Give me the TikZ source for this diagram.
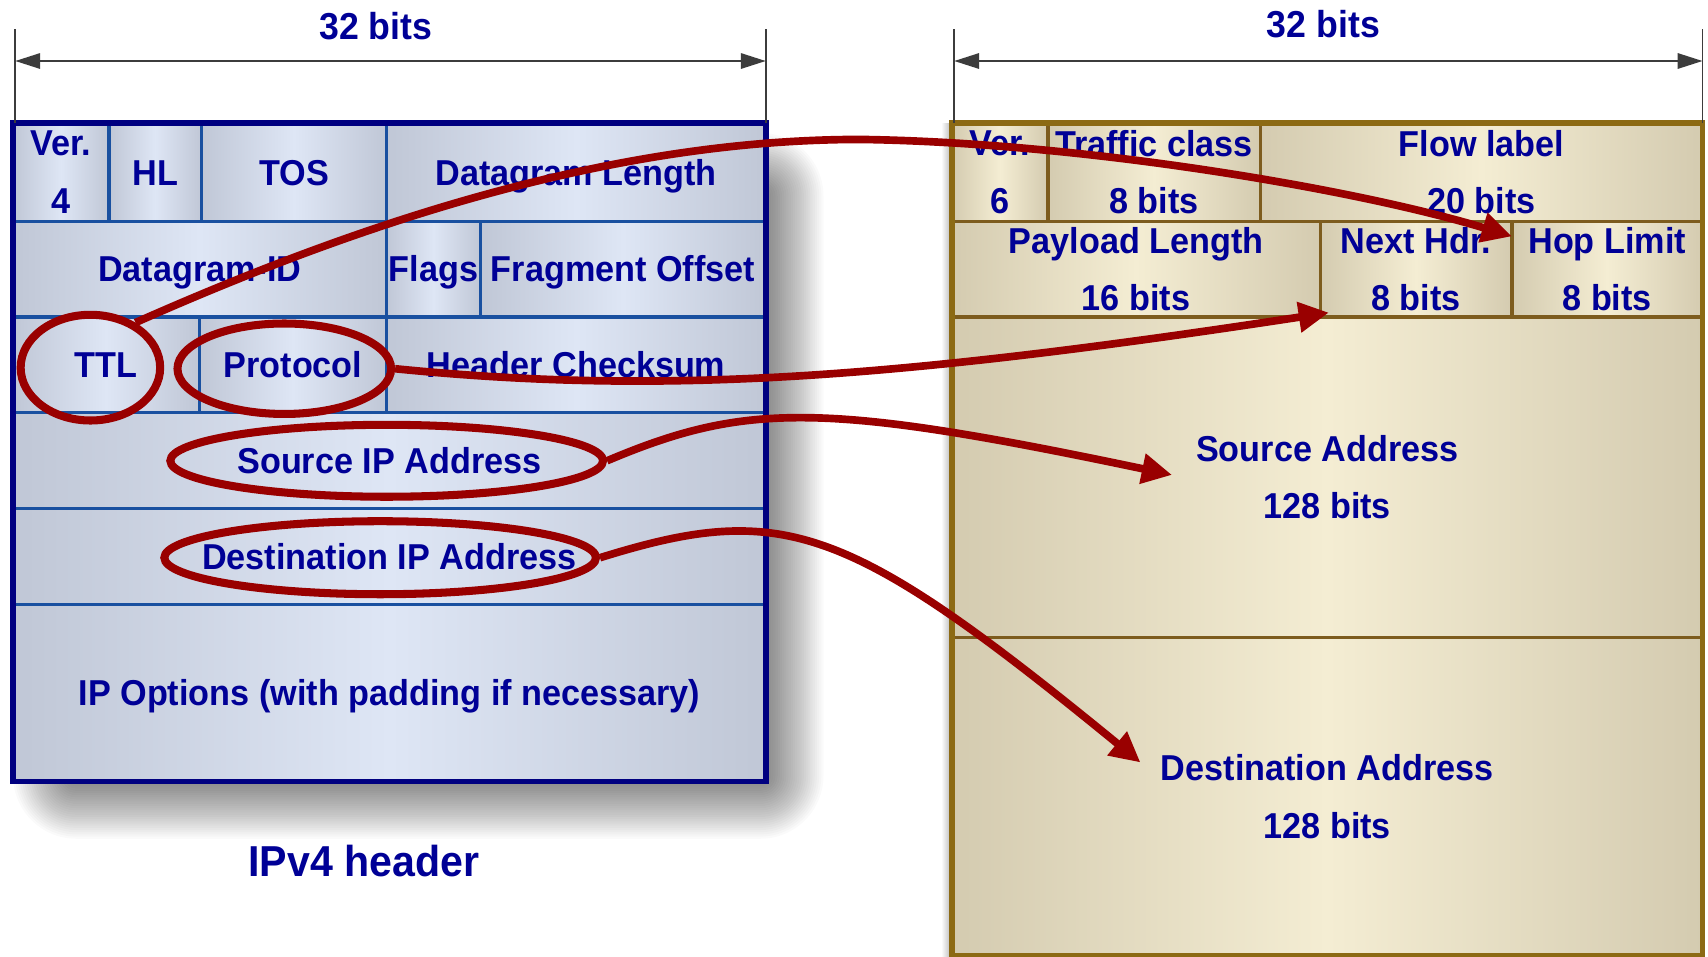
\documentclass[tikz,border=0pt]{standalone}
\usepackage{fontspec}
\newfontfamily\hdrfont{Liberation Sans}[FakeStretch=0.95]
\usetikzlibrary{arrows.meta,shapes.geometric}

\definecolor{ink}{RGB}{0,0,150}
\definecolor{vfouredge}{RGB}{192,199,214}
\definecolor{vfourmid}{RGB}{222,230,245}
\definecolor{vfourrule}{RGB}{25,80,160}
\definecolor{vfourframe}{RGB}{0,0,128}
\definecolor{vsixedge}{RGB}{212,203,176}
\definecolor{vsixmid}{RGB}{244,237,211}
\definecolor{vsixrule}{RGB}{125,92,30}
\definecolor{vsixframe}{RGB}{140,106,20}
\definecolor{mark}{RGB}{153,0,0}
\definecolor{dimgrey}{RGB}{60,60,60}

\tikzset{
  vfourcell/.style={draw=vfourrule, line width=0.85pt, left color=vfouredge,
    right color=vfouredge, middle color=vfourmid, inner sep=0pt, outer sep=0pt},
  vsixcell/.style={draw=vsixrule, line width=0.85pt, left color=vsixedge,
    right color=vsixedge, middle color=vsixmid, inner sep=0pt, outer sep=0pt},
  lbl/.style={font=\hdrfont\bfseries\fontsize{9.4pt}{15.1pt}\selectfont,
    text=ink, inner sep=0pt, align=center},
  oneline/.style={text height=6.75pt, text depth=0pt},
  caption/.style={font=\hdrfont\bfseries\fontsize{9.8pt}{12pt}\selectfont,
    text=ink, inner sep=0pt, text height=7pt, text depth=0pt},
  ring/.style={ellipse, draw=mark, line width=2.1pt, inner sep=0pt},
  link/.style={draw=mark, line width=2pt,
    -{Triangle[length=7.9pt, width=7.6pt]}},
  dimline/.style={draw=dimgrey, line width=0.55pt,
    {Triangle[length=6.5pt, width=4pt]}-{Triangle[length=6.5pt, width=4pt]}},
  tickline/.style={draw=dimgrey, line width=0.45pt},
  frame/.style={inner sep=0pt, outer sep=0pt, line width=1.4pt},
}

% a header field: style, name, left, top, right, bottom
\newcommand\hdrfield[6]{%
  \node[#1, minimum width={(#5-#3)*0.01cm}, minimum height={(#6-#4)*0.01cm}]
    (#2) at ({(#3+#5)/2},{(#4+#6)/2}) {};}

\begin{document}
\begin{tikzpicture}[x=0.01cm, y=-0.01cm]
\useasboundingbox (0,0) rectangle (1568,878);
\fill[white] (0,0) rectangle (1568,878);

% soft drop shadow under the IPv4 header
\foreach \o in {-28,-26,...,28}{
  \pgfmathsetmacro\rr{(\o+30)*0.01}
  \fill[black, opacity=0.02, rounded corners=\rr cm]
    ({40-\o},{150-\o}) rectangle ({728+\o},{742+\o});
}
% light shade along the left side of the IPv6 header
\shade[left color=white, right color=black!30] (864,113) rectangle (874,878);

% ---------------- IPv4 header fields ----------------
\hdrfield{vfourcell}{ver4}{12}{113}{100}{203}
\hdrfield{vfourcell}{hl}{100}{113}{185}{203}
\hdrfield{vfourcell}{tos}{185}{113}{355}{203}
\hdrfield{vfourcell}{dglen}{355}{113}{703}{203}
\hdrfield{vfourcell}{dgid}{12}{203}{355}{291}
\hdrfield{vfourcell}{flags}{355}{203}{441}{291}
\hdrfield{vfourcell}{fragoff}{441}{203}{703}{291}
\hdrfield{vfourcell}{ttl}{12}{291}{183}{379}
\hdrfield{vfourcell}{proto}{183}{291}{355}{379}
\hdrfield{vfourcell}{hcs}{355}{291}{703}{379}
\hdrfield{vfourcell}{srcip}{12}{379}{703}{467}
\hdrfield{vfourcell}{dstip}{12}{467}{703}{555}
\hdrfield{vfourcell}{opts}{12}{555}{703}{717}
\node[frame, draw=vfourframe, minimum width=6.91cm, minimum height=6.04cm]
  (ipv4) at (357.5,415) {};

% ---------------- IPv6 header fields ----------------
\hdrfield{vsixcell}{ver6}{874}{113}{962}{203}
\hdrfield{vsixcell}{tclass}{962}{113}{1157}{203}
\hdrfield{vsixcell}{flow}{1157}{113}{1563}{203}
\hdrfield{vsixcell}{paylen}{874}{203}{1212}{291}
\hdrfield{vsixcell}{nexthdr}{1212}{203}{1388}{291}
\hdrfield{vsixcell}{hoplim}{1388}{203}{1563}{291}
\hdrfield{vsixcell}{srcaddr}{874}{291}{1563}{585}
\hdrfield{vsixcell}{dstaddr}{874}{585}{1563}{877}
\node[frame, draw=vsixframe, minimum width=6.89cm, minimum height=7.64cm]
  (ipv6) at (1218.5,495) {};

% ---------------- field labels ----------------
\node[lbl] (ver4-t) at (ver4) {Ver.\\4};
\node[lbl, oneline] (hl-t) at (hl) {HL};
\node[lbl, oneline] (tos-t) at (tos) {TOS};
\node[lbl, oneline] (dglen-t) at (dglen) {Datagram Length};
\node[lbl, oneline] (dgid-t) at (dgid) {Datagram-ID};
\node[lbl, oneline] (flags-t) at (flags) {Flags};
\node[lbl, oneline] (fragoff-t) at (fragoff) {Fragment Offset};
\node[lbl, oneline] (ttl-t) at (ttl) {TTL};
\node[lbl, oneline] (proto-t) at (proto) {Protocol};
\node[lbl, oneline] (hcs-t) at (hcs) {Header Checksum};
\node[lbl, oneline] (srcip-t) at (srcip) {Source IP Address};
\node[lbl, oneline] (dstip-t) at (dstip) {Destination IP Address};
\node[lbl, oneline] (opts-t) at (opts) {IP Options (with padding if necessary)};

\node[lbl] (ver6-t) at (ver6) {Ver.\\6};
\node[lbl] (tclass-t) at (tclass) {Traffic class\\8 bits};
\node[lbl] (flow-t) at (flow) {Flow label\\20 bits};
\node[lbl] (paylen-t) at (paylen) {Payload Length\\16 bits};
\node[lbl] (nexthdr-t) at (nexthdr) {Next Hdr.\\8 bits};
\node[lbl] (hoplim-t) at (hoplim) {Hop Limit\\8 bits};
\node[lbl] (srcaddr-t) at (srcaddr) {Source Address\\128 bits};
\node[lbl] (dstaddr-t) at (dstaddr) {Destination Address\\128 bits};

\node[caption, font=\hdrfont\bfseries\fontsize{11.3pt}{13pt}\selectfont, text height=8.1pt]
  (v4name) at (334,790) {IPv4 header};

% ---------------- width dimensions ----------------
\coordinate (dimAtl) at (14,27);   \coordinate (dimAbl) at (14,113);
\coordinate (dimAtr) at (703,27);  \coordinate (dimAbr) at (703,113);
\coordinate (dimAl) at (14,56);    \coordinate (dimAr) at (703,56);
\coordinate (dimBtl) at (876,27);  \coordinate (dimBbl) at (876,113);
\coordinate (dimBtr) at (1563,27); \coordinate (dimBbr) at (1563,113);
\coordinate (dimBl) at (876,56);   \coordinate (dimBr) at (1563,56);
\draw[tickline] (dimAtl) -- (dimAbl);
\draw[tickline] (dimAtr) -- (dimAbr);
\draw[tickline] (dimBtl) -- (dimBbl);
\draw[tickline] (dimBtr) -- (dimBbr);
\draw[dimline] (dimAl) -- (dimAr);
\draw[dimline] (dimBl) -- (dimBr);
\node[caption] (widthA) at (345,24) {32 bits};
\node[caption] (widthB) at (1215,22) {32 bits};

% ---------------- highlighted IPv4 fields ----------------
\node[ring, minimum width=1.28cm, minimum height=0.97cm] (ttlring) at (83,337.5) {};
\node[ring, minimum width=1.96cm, minimum height=0.83cm] (protring) at (261,338.5) {};
\node[ring, minimum width=3.97cm, minimum height=0.66cm] (srcring) at (355,423) {};
\node[ring, minimum width=3.96cm, minimum height=0.67cm] (dstring) at (349,512) {};

% ---------------- mapping to IPv6 fields ----------------
\coordinate (hoptip) at (1388,217);
\coordinate (nexttip) at (1220,287);
\coordinate (srctip) at (1076,436);
\coordinate (dsttip) at (1047,700);
\coordinate (ttlpeak) at (790,128);

\draw[link] (ttlring.45) .. controls (330,205) and (560,128) .. (ttlpeak)
  .. controls (1000,131) and (1250,175) .. (hoptip);
\draw[link] (protring.east) .. controls (608,363) and (820,348) .. (nexttip);
\draw[link] (srcring.east) .. controls (685,369) and (757,369) .. (srctip);
\draw[link] (dstring.east) .. controls (718,460) and (777,479) .. (dsttip);
\end{tikzpicture}
\end{document}
